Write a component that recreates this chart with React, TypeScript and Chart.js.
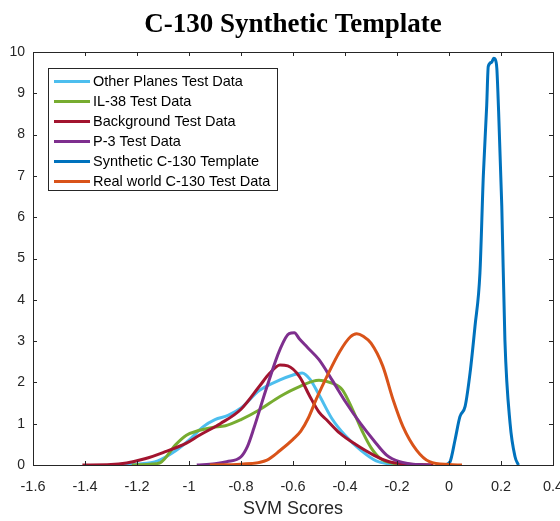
import React, { useEffect, useRef } from 'react';
import { Chart, registerables } from 'chart.js';

Chart.register(...registerables);

const titleText = 'C-130 Synthetic Template';
const xAxisLabel = 'SVM Scores';

const seriesLabels = [
  'Other Planes Test Data',
  'IL-38 Test Data',
  'Background Test Data',
  'P-3 Test Data',
  'Synthetic C-130 Template',
  'Real world C-130 Test Data',
];

const seriesColors = ['#4DBEEE', '#77AC30', '#A2142F', '#7E2F8E', '#0072BD', '#D95319'];

const otherPlanes: [number, number][] = [
  [-1.26, 0], [-1.2, 0.02], [-1.12, 0.1], [-1.05, 0.35], [-1.0, 0.6], [-0.945, 0.93],
  [-0.9, 1.1], [-0.85, 1.2], [-0.8, 1.38], [-0.73, 1.8], [-0.65, 2.06], [-0.6, 2.18],
  [-0.565, 2.23], [-0.535, 2.08], [-0.5, 1.7], [-0.45, 1.12], [-0.4, 0.72], [-0.34, 0.36],
  [-0.28, 0.1], [-0.22, 0.02], [-0.15, 0],
];

const il38: [number, number][] = [
  [-1.22, 0], [-1.15, 0.02], [-1.11, 0.06], [-1.05, 0.5], [-1.01, 0.72], [-0.96, 0.84],
  [-0.91, 0.91], [-0.86, 0.95], [-0.8, 1.1], [-0.73, 1.33], [-0.65, 1.66], [-0.575, 1.9],
  [-0.5, 2.05], [-0.45, 1.98], [-0.41, 1.82], [-0.37, 1.33], [-0.33, 0.77], [-0.3, 0.42],
  [-0.265, 0.16], [-0.215, 0.04], [-0.15, 0.01], [-0.1, 0],
];

const background: [number, number][] = [
  [-1.41, 0], [-1.3, 0.01], [-1.24, 0.05], [-1.17, 0.15], [-1.1, 0.3], [-1.01, 0.53],
  [-0.96, 0.72], [-0.88, 1.0], [-0.8, 1.35], [-0.73, 1.9], [-0.69, 2.22], [-0.65, 2.42],
  [-0.62, 2.4], [-0.575, 2.14], [-0.535, 1.66], [-0.5, 1.28], [-0.47, 1.09], [-0.42, 0.77],
  [-0.36, 0.5], [-0.29, 0.24], [-0.23, 0.08], [-0.15, 0.02], [-0.06, 0],
];

const p3: [number, number][] = [
  [-0.97, 0], [-0.9, 0.03], [-0.855, 0.08], [-0.8, 0.2], [-0.775, 0.45], [-0.75, 0.9],
  [-0.7, 1.9], [-0.65, 2.8], [-0.615, 3.18], [-0.595, 3.2], [-0.575, 3.05], [-0.545, 2.85],
  [-0.5, 2.55], [-0.45, 2.06], [-0.395, 1.5], [-0.34, 1.0], [-0.29, 0.6], [-0.24, 0.24],
  [-0.19, 0.08], [-0.12, 0.01], [-0.07, 0],
];

const syntheticC130: [number, number][] = [
  [-0.015, 0], [0.004, 0.08], [0.023, 0.6], [0.042, 1.17], [0.062, 1.42], [0.081, 2.23],
  [0.1, 3.36], [0.119, 4.65], [0.132, 7.0], [0.145, 8.7], [0.151, 9.65], [0.164, 9.75],
  [0.172, 9.85], [0.178, 9.82], [0.184, 9.6], [0.19, 8.7], [0.203, 6.27], [0.215, 3.03],
  [0.235, 1.0], [0.254, 0.2], [0.267, 0],
];

const realWorldC130: [number, number][] = [
  [-0.92, 0], [-0.8, 0.02], [-0.7, 0.12], [-0.65, 0.35], [-0.6, 0.62], [-0.57, 0.82],
  [-0.54, 1.15], [-0.51, 1.6], [-0.47, 2.14], [-0.42, 2.75], [-0.38, 3.1], [-0.355, 3.18],
  [-0.33, 3.12], [-0.3, 2.95], [-0.255, 2.4], [-0.215, 1.58], [-0.177, 0.93], [-0.125, 0.36],
  [-0.075, 0.08], [0, 0.01], [0.05, 0],
];

const seriesData = [otherPlanes, il38, background, p3, syntheticC130, realWorldC130];

const xTicks = [-1.6, -1.4, -1.2, -1, -0.8, -0.6, -0.4, -0.2, 0, 0.2, 0.4];
const yTicks = [0, 1, 2, 3, 4, 5, 6, 7, 8, 9, 10];

const AXIS_COLOR = '#262626';
const SANS = '"Liberation Sans", Arial, Helvetica, sans-serif';

const framePlugin = {
  id: 'matlabFrame',
  afterDraw(chart: any) {
    const { ctx, chartArea } = chart;
    const { left, right, top, bottom } = chartArea;
    const xs = chart.scales.x;
    const ys = chart.scales.y;
    ctx.save();
    // box
    ctx.strokeStyle = AXIS_COLOR;
    ctx.lineWidth = 1;
    ctx.strokeRect(Math.round(left) + 0.5, Math.round(top) + 0.5, Math.round(right - left), Math.round(bottom - top));
    // ticks inward
    const tl = 4;
    ctx.beginPath();
    xTicks.forEach((v) => {
      const px = Math.round(xs.getPixelForValue(v)) + 0.5;
      ctx.moveTo(px, bottom);
      ctx.lineTo(px, bottom - tl);
      ctx.moveTo(px, top);
      ctx.lineTo(px, top + tl);
    });
    yTicks.forEach((v) => {
      const py = Math.round(ys.getPixelForValue(v)) + 0.5;
      ctx.moveTo(left, py);
      ctx.lineTo(left + tl, py);
      ctx.moveTo(right, py);
      ctx.lineTo(right - tl, py);
    });
    ctx.stroke();

    // title
    const cx = (left + right) / 2;
    ctx.fillStyle = '#000';
    ctx.font = 'bold 27px "Liberation Serif", "Times New Roman", serif';
    ctx.textAlign = 'center';
    ctx.textBaseline = 'alphabetic';
    ctx.fillText(titleText, cx, 32);

    // x axis label
    ctx.fillStyle = AXIS_COLOR;
    ctx.font = `18px ${SANS}`;
    ctx.textBaseline = 'alphabetic';
    ctx.fillText(xAxisLabel, cx, 514);

    // legend
    const lx = 48.5;
    const ly = 68.5;
    const lw = 229;
    const lh = 122;
    ctx.fillStyle = '#fff';
    ctx.fillRect(lx, ly, lw, lh);
    ctx.strokeStyle = AXIS_COLOR;
    ctx.lineWidth = 1;
    ctx.strokeRect(lx, ly, lw, lh);
    ctx.font = `14.5px ${SANS}`;
    ctx.textAlign = 'left';
    ctx.textBaseline = 'middle';
    seriesLabels.forEach((label, i) => {
      const y = 81.5 + i * 20;
      ctx.strokeStyle = seriesColors[i];
      ctx.lineWidth = 3;
      ctx.beginPath();
      ctx.moveTo(54, y);
      ctx.lineTo(90, y);
      ctx.stroke();
      ctx.fillStyle = '#000';
      ctx.fillText(label, 93, y + 0.5);
    });
    ctx.restore();
  },
};

export default function App() {
  const canvasRef = useRef<HTMLCanvasElement | null>(null);

  useEffect(() => {
    if (!canvasRef.current) return;
    const chart = new Chart(canvasRef.current, {
      type: 'line',
      data: {
        datasets: seriesLabels.map((label, i) => ({
          label,
          data: seriesData[i].map(([x, y]) => ({ x, y })),
          borderColor: seriesColors[i],
          backgroundColor: seriesColors[i],
          borderWidth: 3,
          pointRadius: 0,
          fill: false,
          cubicInterpolationMode: 'monotone' as const,
          order: -i,
        })),
      },
      options: {
        responsive: false,
        animation: false,
        events: [],
        layout: { padding: { left: 0, right: 7, top: 52, bottom: 0 } },
        plugins: {
          legend: { display: false },
          title: { display: false },
          tooltip: { enabled: false },
        },
        scales: {
          x: {
            type: 'linear',
            min: -1.6,
            max: 0.4,
            afterBuildTicks: (scale: any) => {
              scale.ticks = xTicks.map((v) => ({ value: v }));
            },
            afterFit: (scale: any) => {
              scale.height = 56;
              scale.paddingLeft = 0;
              scale.paddingRight = 0;
            },
            grid: { display: false, drawTicks: false },
            border: { display: false },
            ticks: {
              color: AXIS_COLOR,
              font: { family: SANS, size: 14.5 },
              padding: 13,
              maxRotation: 0,
              autoSkip: false,
              callback: (v: any) => String(Number(Number(v).toFixed(1))),
            },
          },
          y: {
            type: 'linear',
            min: 0,
            max: 10,
            afterBuildTicks: (scale: any) => {
              scale.ticks = yTicks.map((v) => ({ value: v }));
            },
            afterFit: (scale: any) => {
              scale.width = 33;
              scale.paddingTop = 0;
              scale.paddingBottom = 0;
            },
            grid: { display: false, drawTicks: false },
            border: { display: false },
            ticks: {
              color: AXIS_COLOR,
              font: { family: SANS, size: 14 },
              padding: 8,
              autoSkip: false,
              callback: (v: any) => String(v),
            },
          },
        },
      },
      plugins: [framePlugin],
    });
    return () => chart.destroy();
  }, []);

  return (
    <div style={{ position: 'fixed', left: 0, top: 0, width: 560, height: 521, background: '#fff' }}>
      <canvas ref={canvasRef} width={560} height={521} style={{ width: 560, height: 521, display: 'block' }} />
    </div>
  );
}
